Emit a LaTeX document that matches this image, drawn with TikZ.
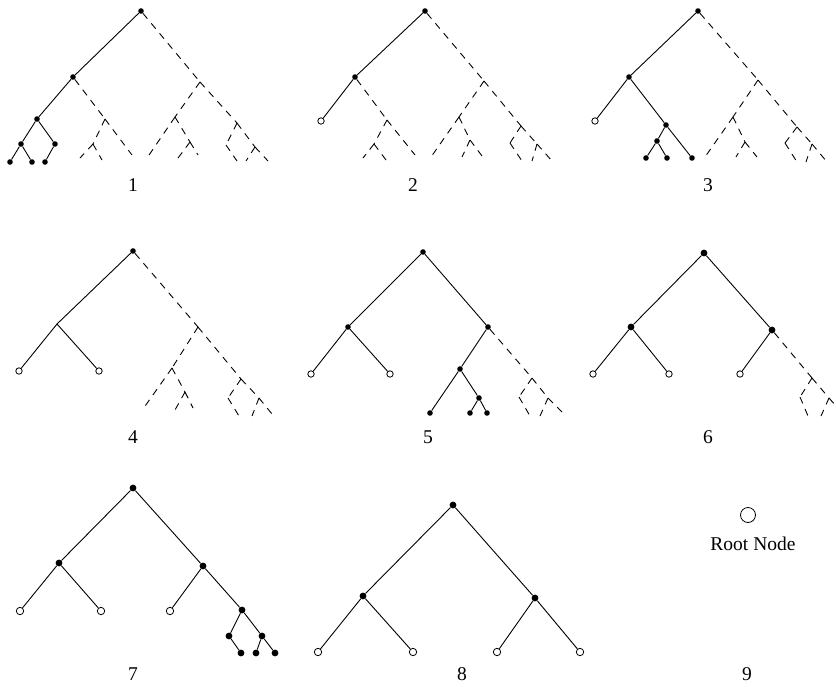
\documentclass[tikz,border=0pt]{standalone}
\usepackage{fontspec}
\setmainfont{Liberation Serif}
\begin{document}
\begin{tikzpicture}[x=1pt,y=-1pt,
  fdot/.style={circle,fill=black,inner sep=0pt,minimum size=5.6pt},
  bdot/.style={circle,fill=black,inner sep=0pt,minimum size=6.8pt},
  odot/.style={circle,draw=black,fill=white,line width=0.8pt,inner sep=0pt,minimum size=6.4pt},
  bodot/.style={circle,draw=black,fill=white,line width=0.8pt,inner sep=0pt,minimum size=7.4pt},
  sol/.style={line width=0.9pt},
  dsh/.style={line width=0.9pt,dash pattern=on 7pt off 6pt},
  lab/.style={font=\fontsize{19.5}{23}\selectfont,inner sep=0pt}]
\useasboundingbox (0,0) rectangle (836,686);

% ---------------- Panel 1 ----------------
\node[fdot] (a) at (141,11) {};
\node[fdot] (aL) at (73,77) {};
\node[fdot] (aLL) at (37,119) {};
\node[fdot] (aLLL) at (21,144) {};
\node[fdot] (aLLLL) at (10,162) {};
\node[fdot] (aLLLR) at (32,162) {};
\node[fdot] (aLLR) at (55,144) {};
\node[fdot] (aLLRL) at (45,162) {};
\coordinate (aLR) at (105,119);
\coordinate (aLRL) at (93,144);
\coordinate (aLRLL) at (80,158);
\coordinate (aLRLR) at (102,160);
\coordinate (aLRR) at (132,155);
\coordinate (aR) at (200,82);
\coordinate (aRL) at (175,117);
\coordinate (aRLL) at (147,158);
\coordinate (aRLR) at (190,142);
\coordinate (aRLRL) at (178,158);
\coordinate (aRLRR) at (198,155);
\coordinate (aRR) at (237,123);
\coordinate (aRRL) at (226,145);
\coordinate (aRRLR) at (237,161);
\coordinate (aRRR) at (255,147);
\coordinate (aRRRL) at (246,161);
\coordinate (aRRRR) at (268,161);
\foreach \u/\v in {/L,L/LL,LL/LLL,LLL/LLLL,LLL/LLLR,LL/LLR,LLR/LLRL}
  \draw[sol] (a\u) -- (a\v);
\foreach \u/\v in {L/LR,LR/LRL,LRL/LRLL,LRL/LRLR,LR/LRR,/R,R/RL,RL/RLL,RL/RLR,RLR/RLRL,RLR/RLRR,R/RR,RR/RRL,RRL/RRLR,RR/RRR,RRR/RRRL,RRR/RRRR}
  \draw[dsh] (a\u) -- (a\v);
\node[lab] (l1) at (133,185) {1};

% ---------------- Panel 2 ----------------
\node[fdot] (b) at (425,11) {};
\node[fdot] (bL) at (355,77) {};
\node[odot] (bLL) at (321,121) {};
\coordinate (bLR) at (387,120);
\coordinate (bLRL) at (374,144);
\coordinate (bLRLL) at (363,158);
\coordinate (bLRLR) at (386,160);
\coordinate (bLRR) at (415,155);
\coordinate (bR) at (484,81);
\coordinate (bRL) at (459,117);
\coordinate (bRLL) at (431,157);
\coordinate (bRLR) at (470,140);
\coordinate (bRLRL) at (462,157);
\coordinate (bRLRR) at (482,156);
\coordinate (bRR) at (521,126);
\coordinate (bRRL) at (510,143);
\coordinate (bRRLR) at (522,161);
\coordinate (bRRR) at (537,144);
\coordinate (bRRRL) at (532,161);
\coordinate (bRRRR) at (552,161);
\foreach \u/\v in {/L,L/LL}
  \draw[sol] (b\u) -- (b\v);
\foreach \u/\v in {L/LR,LR/LRL,LRL/LRLL,LRL/LRLR,LR/LRR,/R,R/RL,RL/RLL,RL/RLR,RLR/RLRL,RLR/RLRR,R/RR,RR/RRL,RRL/RRLR,RR/RRR,RRR/RRRL,RRR/RRRR}
  \draw[dsh] (b\u) -- (b\v);
\node[lab] (l2) at (413,185) {2};

% ---------------- Panel 3 ----------------
\node[fdot] (c) at (698,11) {};
\node[fdot] (cL) at (629,77) {};
\node[odot] (cLL) at (595,121) {};
\node[fdot] (cLR) at (666,125) {};
\node[fdot] (cLRL) at (657,141) {};
\node[fdot] (cLRLL) at (646,158) {};
\node[fdot] (cLRLR) at (667,158) {};
\node[fdot] (cLRR) at (692,158) {};
\coordinate (cR) at (758,80);
\coordinate (cRL) at (733,117);
\coordinate (cRLL) at (705,157);
\coordinate (cRLR) at (745,142);
\coordinate (cRLRL) at (736,157);
\coordinate (cRLRR) at (757,157);
\coordinate (cRR) at (797,127);
\coordinate (cRRL) at (785,143);
\coordinate (cRRLR) at (797,162);
\coordinate (cRRR) at (812,144);
\coordinate (cRRRL) at (806,162);
\coordinate (cRRRR) at (827,162);
\foreach \u/\v in {/L,L/LL,L/LR,LR/LRL,LRL/LRLL,LRL/LRLR,LR/LRR}
  \draw[sol] (c\u) -- (c\v);
\foreach \u/\v in {/R,R/RL,RL/RLL,RL/RLR,RLR/RLRL,RLR/RLRR,R/RR,RR/RRL,RRL/RRLR,RR/RRR,RRR/RRRL,RRR/RRRR}
  \draw[dsh] (c\u) -- (c\v);
\node[lab] (l3) at (708,185) {3};

% ---------------- Panel 4 ----------------
\node[fdot] (d) at (133,251) {};
\coordinate (dL) at (57,324);
\node[odot] (dLL) at (19,371) {};
\node[odot] (dLR) at (99,371) {};
\coordinate (dR) at (198,327);
\coordinate (dRL) at (172,368);
\coordinate (dRLL) at (143,409);
\coordinate (dRLR) at (185,392);
\coordinate (dRLRL) at (175,410);
\coordinate (dRLRR) at (193,408);
\coordinate (dRR) at (241,379);
\coordinate (dRRL) at (228,398);
\coordinate (dRRLR) at (239,416);
\coordinate (dRRR) at (259,398);
\coordinate (dRRRL) at (252,416);
\coordinate (dRRRR) at (272,414);
\foreach \u/\v in {/L,L/LL,L/LR}
  \draw[sol] (d\u) -- (d\v);
\foreach \u/\v in {/R,R/RL,RL/RLL,RL/RLR,RLR/RLRL,RLR/RLRR,R/RR,RR/RRL,RRL/RRLR,RR/RRR,RRR/RRRL,RRR/RRRR}
  \draw[dsh] (d\u) -- (d\v);
\node[lab] (l4) at (133,437) {4};

% ---------------- Panel 5 ----------------
\node[fdot] (e) at (423,252) {};
\node[fdot] (eL) at (348,327) {};
\node[odot] (eLL) at (311,374) {};
\node[odot] (eLR) at (390,374) {};
\node[fdot] (eR) at (488,327) {};
\node[fdot] (eRL) at (460,369) {};
\node[fdot] (eRLL) at (430,413) {};
\node[fdot] (eRLR) at (479,398) {};
\node[fdot] (eRLRL) at (470,413) {};
\node[fdot] (eRLRR) at (487,413) {};
\coordinate (eRR) at (532,378);
\coordinate (eRRL) at (519,397);
\coordinate (eRRLR) at (530,416);
\coordinate (eRRR) at (548,398);
\coordinate (eRRRL) at (540,416);
\coordinate (eRRRR) at (562,412);
\foreach \u/\v in {/L,L/LL,L/LR,/R,R/RL,RL/RLL,RL/RLR,RLR/RLRL,RLR/RLRR}
  \draw[sol] (e\u) -- (e\v);
\foreach \u/\v in {R/RR,RR/RRL,RRL/RRLR,RR/RRR,RRR/RRRL,RRR/RRRR}
  \draw[dsh] (e\u) -- (e\v);
\node[lab] (l5) at (428,437) {5};

% ---------------- Panel 6 ----------------
\node[bdot] (f) at (704,253) {};
\node[bdot] (fL) at (631,327) {};
\node[odot] (fLL) at (593,374) {};
\node[odot] (fLR) at (669,374) {};
\node[bdot] (fR) at (772,330) {};
\node[odot] (fRL) at (740,374) {};
\coordinate (fRR) at (812,378);
\coordinate (fRRL) at (800,397);
\coordinate (fRRLR) at (808,416);
\coordinate (fRRR) at (829,398);
\coordinate (fRRRL) at (821,416);
\coordinate (fRRRR) at (843,414);
\foreach \u/\v in {/L,L/LL,L/LR,/R,R/RL}
  \draw[sol] (f\u) -- (f\v);
\foreach \u/\v in {R/RR,RR/RRL,RRL/RRLR,RR/RRR,RRR/RRRL,RRR/RRRR}
  \draw[dsh] (f\u) -- (f\v);
\node[lab] (l6) at (708,437) {6};

% ---------------- Panel 7 ----------------
\node[bdot] (g) at (133,488) {};
\node[bdot] (gL) at (59,563) {};
\node[bodot] (gLL) at (20,611) {};
\node[bodot] (gLR) at (101,611) {};
\node[bdot] (gR) at (203,566) {};
\node[bodot] (gRL) at (170,611) {};
\node[bdot] (gRR) at (242,610) {};
\node[bdot] (gRRL) at (229,636) {};
\node[bdot] (gRRLR) at (241,653) {};
\node[bdot] (gRRR) at (262,636) {};
\node[bdot] (gRRRL) at (256,653) {};
\node[bdot] (gRRRR) at (275,653) {};
\foreach \u/\v in {/L,L/LL,L/LR,/R,R/RL,R/RR,RR/RRL,RRL/RRLR,RR/RRR,RRR/RRRL,RRR/RRRR}
  \draw[sol] (g\u) -- (g\v);
\node[lab] (l7) at (133,674) {7};

% ---------------- Panel 8 ----------------
\node[bdot] (h) at (453,505) {};
\node[bdot] (hL) at (363,596) {};
\node[bdot] (hR) at (535,598) {};
\node[bodot] (hLL) at (318,652) {};
\node[bodot] (hLR) at (413,652) {};
\node[bodot] (hRL) at (497,652) {};
\node[bodot] (hRR) at (580,652) {};
\foreach \u/\v in {/L,L/LL,L/LR,/R,R/RL,R/RR}
  \draw[sol] (h\u) -- (h\v);
\node[lab] (l8) at (462,674) {8};

% ---------------- Panel 9 ----------------
\node[circle,draw=black,line width=0.8pt,inner sep=0pt,minimum size=15pt] (leg) at (748,515) {};
\node[lab] (legt) at (753,544) {Root Node};
\node[lab] (l9) at (747,674) {9};
\end{tikzpicture}
\end{document}
